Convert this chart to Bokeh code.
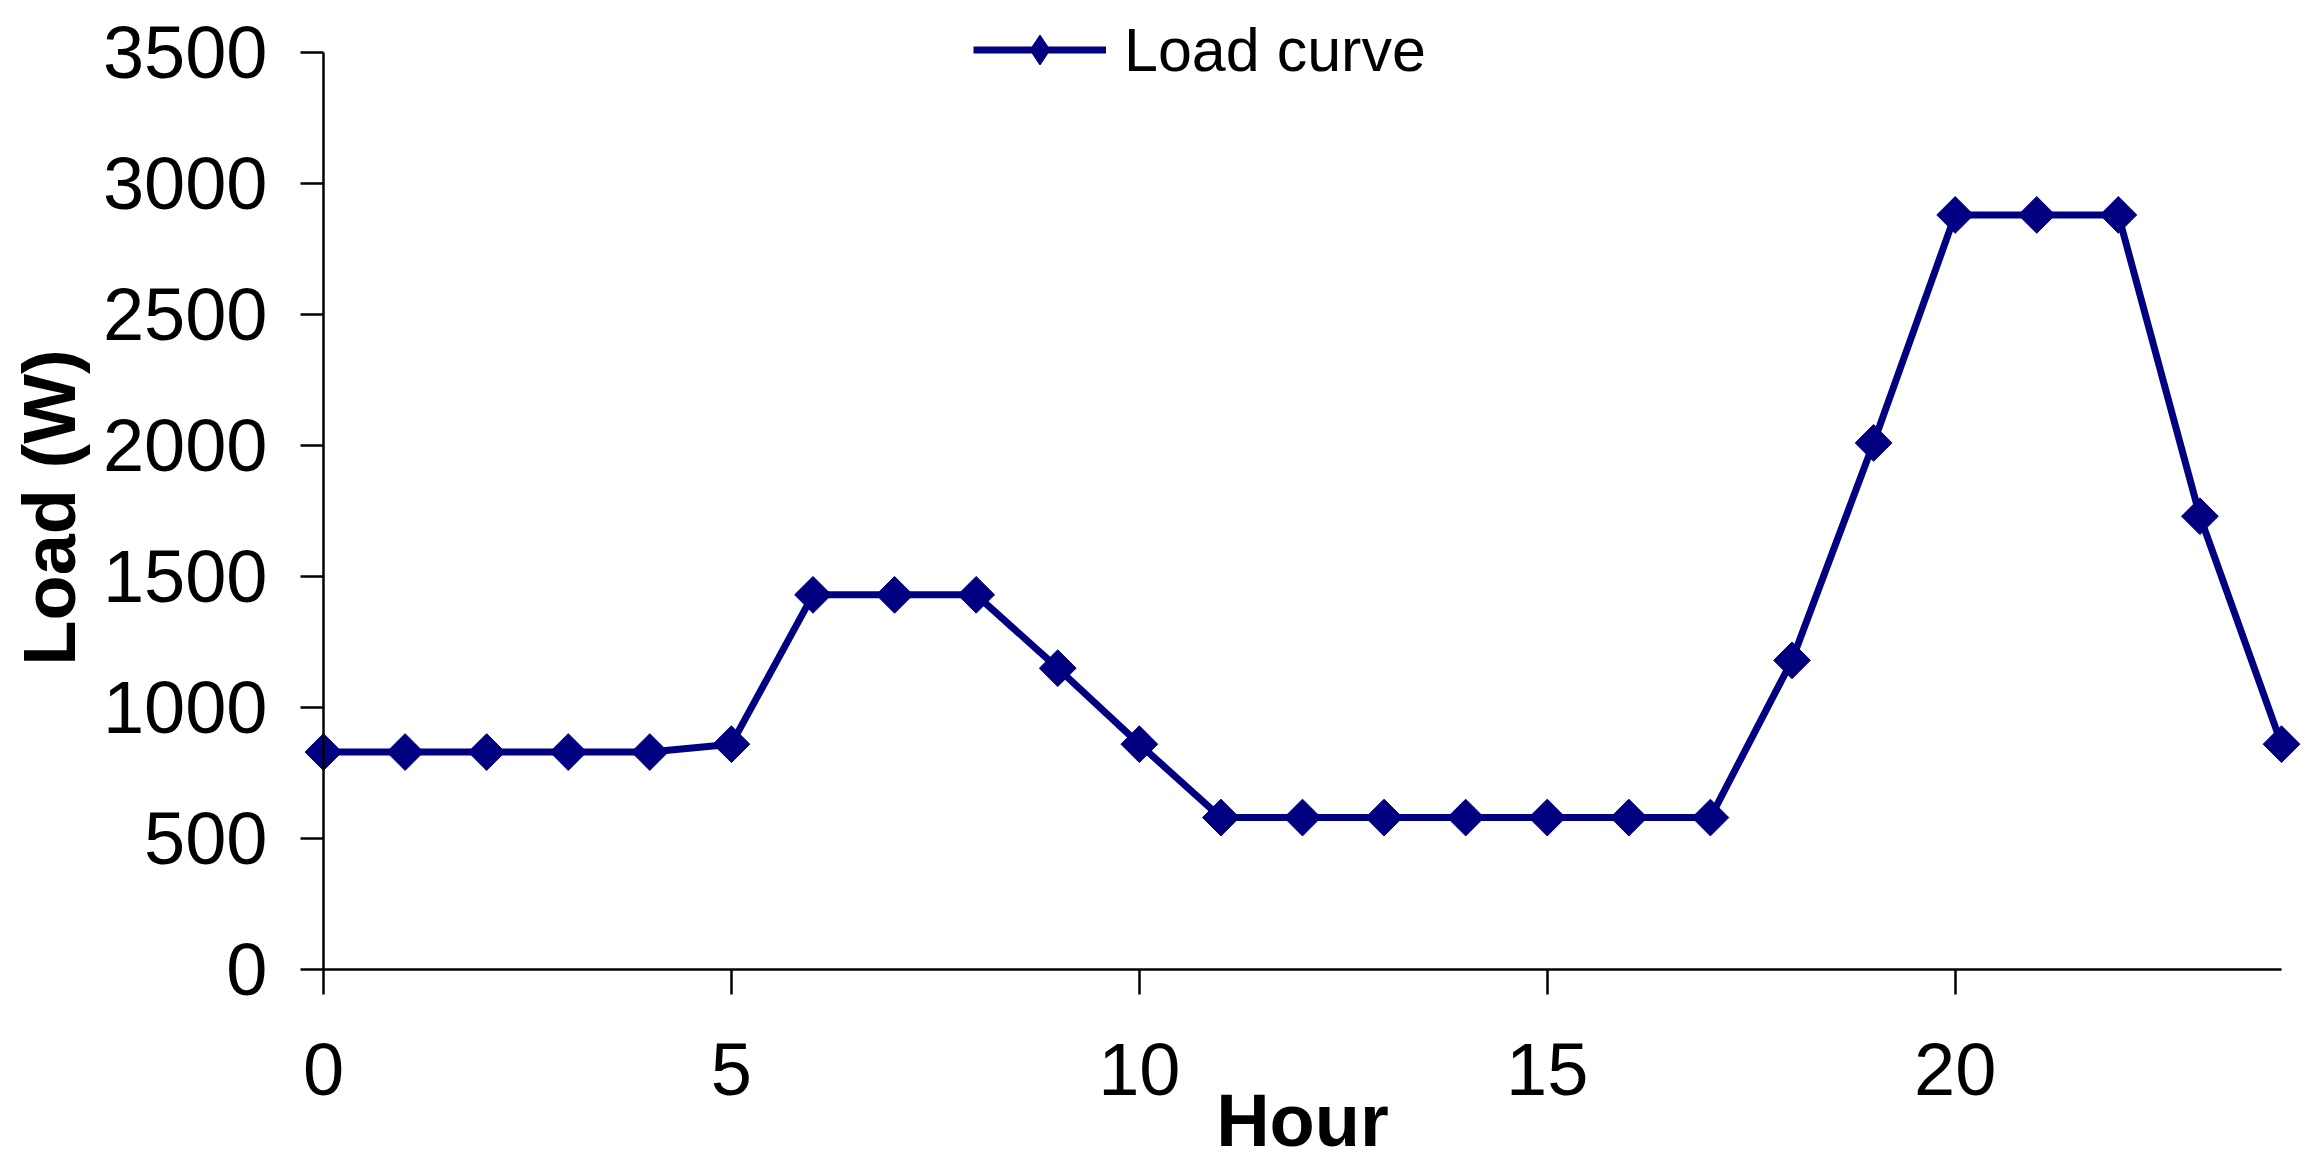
from bokeh.plotting import figure
from bokeh.models import Range1d, FixedTicker, Legend, LegendItem, Label
from bokeh.embed import file_html
from bokeh.resources import INLINE
import math

hours = list(range(25))
load_w = [830, 830, 830, 830, 830, 860, 1430, 1430, 1430, 1150, 860,
          580, 580, 580, 580, 580, 580, 580, 1180, 2010, 2880, 2880, 2880, 1730, 860]
x_ticks = [0, 5, 10, 15, 20]
y_ticks = [0, 500, 1000, 1500, 2000, 2500, 3000, 3500]
series_name = "Load curve"
x_title = "Hour"
y_title = "Load (W)"

NAVY = "#000080"
FONT = "Liberation Sans"

W, H = 2304, 1168
# pixel layout of the chart area (canvas px): where x=0, x=24, y=0, y=3500 fall
X0_PX, X24_PX = 323, 2281
Y0_PX, Y3500_PX = 969, 52
px_per_x = (X24_PX - X0_PX) / 24
px_per_y = (Y0_PX - Y3500_PX) / 3500

x_range = Range1d(-X0_PX / px_per_x, (W - X0_PX) / px_per_x)
y_range = Range1d(-(H - Y0_PX) / px_per_y, Y0_PX / px_per_y)

p = figure(width=W, height=H, output_backend="svg", toolbar_location=None,
           x_range=x_range, y_range=y_range,
           min_border_left=0, min_border_right=0, min_border_top=0, min_border_bottom=0)
p.outline_line_color = None
p.xgrid.visible = False
p.ygrid.visible = False
p.background_fill_color = "white"
p.border_fill_color = "white"

ln = p.line(hours, load_w, line_color=NAVY, line_width=7)
# narrow diamonds, hidden under the markers; they supply the legend's diamond
lg_mk = p.scatter(hours, load_w, marker="diamond", size=20,
                  fill_color=NAVY, line_color=NAVY)
mk = p.scatter(hours, load_w, marker="square", angle=math.pi / 4, size=26,
               fill_color=NAVY, line_color=NAVY)

for ax in (p.xaxis[0], p.yaxis[0]):
    ax.fixed_location = 0
    ax.axis_line_color = "black"
    ax.axis_line_width = 2.5
    ax.major_tick_line_color = "black"
    ax.major_tick_line_width = 2.5
    ax.major_tick_in = 0
    ax.minor_tick_line_color = None
    ax.major_label_text_font = FONT
    ax.major_label_text_font_size = "74px"
    ax.major_label_text_color = "black"

p.xaxis[0].ticker = FixedTicker(ticks=x_ticks)
p.yaxis[0].ticker = FixedTicker(ticks=y_ticks)
p.xaxis[0].bounds = (0, 24)
p.yaxis[0].bounds = (0, 3500)
p.xaxis[0].major_tick_out = 25
p.yaxis[0].major_tick_out = 23
p.xaxis[0].major_label_standoff = 49
p.yaxis[0].major_label_standoff = 33

# axis titles
p.add_layout(Label(x=1302, y=H - 1120, x_units="screen", y_units="screen",
                   text=x_title, text_align="center", text_baseline="alphabetic",
                   text_font=FONT, text_font_style="bold", text_font_size="74px",
                   text_color="black"))
p.add_layout(Label(x=49, y=H - 507, x_units="screen", y_units="screen",
                   text=y_title, angle=math.pi / 2, text_align="center",
                   text_baseline="alphabetic",
                   text_font=FONT, text_font_style="bold", text_font_size="74px",
                   text_color="black"))

legend = Legend(items=[LegendItem(label=series_name, renderers=[ln, lg_mk])],
                location=(973, H - 87), orientation="horizontal",
                padding=0, margin=0, spacing=0,
                glyph_width=133, glyph_height=75, label_height=60,
                label_standoff=18, label_text_font=FONT, label_text_font_size="61px",
                label_text_color="black",
                border_line_color=None, background_fill_alpha=0)
p.add_layout(legend, "center")

open("out.html", "w").write(file_html(p, INLINE))
